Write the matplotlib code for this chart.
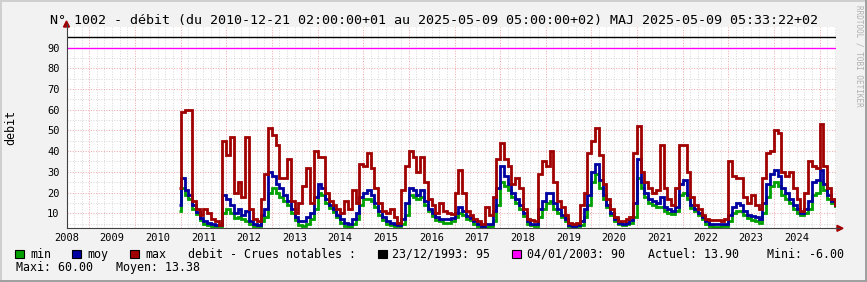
import numpy as np
import pandas as pd
import matplotlib
matplotlib.use("Agg")
import matplotlib.pyplot as plt
import matplotlib.dates as mdates
from matplotlib.patches import Rectangle, Polygon
from matplotlib.lines import Line2D

# monthly values, Dec 2010 -> May 2025 (one row per year)
debit_max = [22,
    59, 60, 60, 16, 12, 9, 12, 10, 7, 6, 4.5, 45,          # 2011
    38, 47, 20, 25, 18, 47, 12, 7, 6, 17, 29, 51,          # 2012
    48, 43, 27, 27, 36, 16, 10, 15, 23, 32, 15, 40,        # 2013
    37, 37, 20, 16, 14, 12, 10, 16, 12, 21, 15, 34,        # 2014
    33, 39, 32, 22, 15, 11, 10, 12, 8, 5.5, 21, 33,        # 2015
    40, 37, 30, 37, 25, 17, 14, 10, 15, 11, 10, 9.5,       # 2016
    20, 31, 20, 11, 9, 7, 6, 5, 13, 9, 18, 36,             # 2017
    44, 36, 33, 24, 27, 22, 12, 7, 6.5, 6, 29, 35,         # 2018
    33, 40, 25, 16, 13, 9, 5.5, 5, 5.5, 14, 20, 39,        # 2019
    45, 51, 38, 24, 17, 12, 8, 6, 6, 7, 8, 39,             # 2020
    52, 30, 25, 22, 20, 21, 43, 22, 17, 14, 22, 43,        # 2021
    43, 30, 18, 14, 12, 9, 7, 6.5, 6.5, 6.5, 6, 7,         # 2022
    35, 28, 27, 27, 18, 15, 19, 14, 12, 27, 39, 40,        # 2023
    50, 49, 30, 28, 30, 22, 17, 11, 20, 35, 33, 32,        # 2024
    53, 33, 22, 17, 14]                                    # 2025

debit_moy = [14,
    27, 21, 19, 14, 10.5, 7.5, 6, 5.3, 4.6, 4.3, 4.2, 19,
    17, 14, 10, 12, 9, 11, 6, 5, 4.5, 9, 12, 30,
    28, 24, 22, 19, 16, 12, 8, 6, 6, 8, 10, 18,
    24, 22, 17, 14, 12, 9, 7, 5.5, 5, 7, 10, 18,
    20, 21, 19, 15, 11, 8, 6, 5.5, 5, 4.5, 7, 15,
    22, 21, 19, 21, 16, 12, 10, 8, 7, 7, 7, 7.5,
    10, 13, 11, 8.5, 7.5, 6, 5, 4, 5, 5, 11, 22,
    33, 28, 24, 20, 17, 14, 10, 6, 5, 4.8, 12, 16,
    20, 20, 15, 12, 9, 7, 4.5, 4, 4.2, 6, 12, 19,
    30, 34, 26, 19, 14, 10, 7, 5.5, 5, 5.5, 6.5, 15,
    36, 25, 20, 17, 16, 15, 18, 13, 12, 11, 13, 24,
    26, 19, 14, 12, 10, 8, 6, 5, 5, 5, 5, 5,
    9, 13, 15, 14, 11, 9, 8.5, 8, 7, 15, 24, 29,
    31, 28, 22, 20, 17, 14, 12, 10, 12, 16, 25, 26,
    31, 24, 19, 16, 14]

debit_min = [11,
    22, 19, 17, 12, 9.5, 6.5, 5, 4.3, 4, 3.8, 3.8, 10,
    12, 10, 7.5, 8, 7, 6, 5, 4, 3.8, 6, 8, 20,
    22, 20, 18, 16, 14, 10, 6.5, 4.5, 4, 5, 7, 12,
    20, 19, 15, 12.5, 10.5, 8, 5.5, 4, 3.5, 5, 7, 14,
    17, 17, 16, 13, 9, 6.5, 5, 4.5, 4, 3.8, 5, 9,
    19, 18, 17, 18, 14, 11, 8.5, 6.5, 6, 5.5, 5.5, 6,
    8, 10, 9, 7, 6.5, 5, 4, 3.5, 3.5, 3.7, 6, 14,
    25, 23, 21, 18, 15, 12, 8.5, 5, 4.2, 4, 8, 12,
    15, 16, 12, 10, 8, 6, 4, 3.5, 3.6, 4.5, 8, 14,
    25, 29, 22, 17, 13, 9, 6, 5, 4.5, 5, 5.5, 8,
    27, 22, 18, 15, 14, 13, 13, 11, 10, 9.5, 11, 19,
    20, 17, 12.5, 11, 9, 7, 5, 3.8, 3.5, 3.5, 3.8, 4,
    6, 10, 11, 11, 9, 7.5, 6.5, 6, 5.5, 10, 18, 23,
    25, 23, 19, 17, 15, 12, 10, 9, 10, 12, 19, 20,
    25, 21, 17, 15, 13.5]

crues = [("23/12/1993", 95, "black"), ("04/01/2003", 90, "#ff00ff")]
actuel, mini, maxi, moyen = 13.90, -6.00, 60.00, 13.38
years = list(range(2008, 2025))

t_start = pd.Timestamp("2010-12-21 02:00")
t_end = pd.Timestamp("2025-05-09 05:00")
view_start = pd.Timestamp("2008-07-02")

W, H = 867, 282
MONO = "DejaVu Sans Mono"


def fx(px):
    return px / W


def fy(py):
    return 1 - py / H


fig = plt.figure(figsize=(W / 100, H / 100), dpi=100, facecolor="#f2f2f2")
ax = fig.add_axes([fx(66.5), fy(228.3), fx(835.6) - fx(66.5), fy(27) - fy(228.3)])
ax.set_facecolor("white")
for s in ax.spines.values():
    s.set_visible(False)

# time edges of the monthly steps
months = pd.date_range("2010-12-01", periods=len(debit_moy), freq="MS")
edges = list(months) + [t_end]
edges[0] = t_start
xe = mdates.date2num(edges)

x0 = mdates.date2num(view_start)
x1 = mdates.date2num(t_end)
ax.set_xlim(x0, x1)
ax.set_ylim(2.7, 100)

# grid (dotted, minor grey / major red)
for d in pd.date_range("2008-07-01", t_end, freq="2MS"):
    major = d.month == 1
    ax.axvline(mdates.date2num(d), color="#f0a8a8" if major else "#d8d8d8",
               lw=0.72, ls=(0, (1, 1.6)), zorder=1)
for v in range(5, 100, 5):
    major = v % 10 == 0
    ax.axhline(v, color="#f0a8a8" if major else "#d8d8d8",
               lw=0.72, ls=(0, (1, 1.6)), zorder=1)

# data
ax.stairs(debit_min, xe, baseline=None, color="#00a000", lw=2.0, zorder=3)
ax.stairs(debit_moy, xe, baseline=None, color="#0000a0", lw=2.0, zorder=4)
ax.stairs(debit_max, xe, baseline=None, color="#a00000", lw=2.0, zorder=5)

for label, val, col in crues:
    ax.axhline(val, color=col, lw=1.0, zorder=6)

# ticks
ax.set_yticks(range(10, 100, 10))
ax.set_yticklabels([str(v) for v in range(10, 100, 10)], fontfamily=MONO, fontsize=7.5)
ax.set_xticks([mdates.date2num(pd.Timestamp(f"{y}-07-01")) for y in years])
ax.set_xticklabels([str(y) for y in years], fontfamily=MONO, fontsize=7.5)
ax.tick_params(axis="y", length=0, pad=5)
ax.tick_params(axis="x", length=0, pad=3.5)

# axes lines with arrows
axc = "#404040"
fig.add_artist(Line2D([fx(66.5), fx(66.5)], [fy(228.3), fy(24)], color=axc, lw=0.8))
fig.add_artist(Line2D([fx(66.5), fx(839)], [fy(228.3), fy(228.3)], color=axc, lw=0.8))
fig.add_artist(Polygon([[fx(63.5), fy(27)], [fx(69.5), fy(27)], [fx(66.5), fy(21)]],
                       closed=True, color="#a00000", transform=fig.transFigure))
fig.add_artist(Polygon([[fx(837), fy(225.3)], [fx(837), fy(231.3)], [fx(843), fy(228.3)]],
                       closed=True, color="#a00000", transform=fig.transFigure))

# title and axis label
fig.text(fx(433.5), fy(24), "N° 1002 - débit (du 2010-12-21 02:00:00+01 au "
         "2025-05-09 05:00:00+02) MAJ 2025-05-09 05:33:22+02",
         ha="center", va="baseline", fontfamily=MONO, fontsize=9.6)
fig.text(fx(10.5), fy(127.5), "debit", rotation=90, ha="center", va="center",
         fontfamily=MONO, fontsize=8.4)
fig.text(fx(859), fy(5), "RRDTOOL / TOBI OETIKER", rotation=270, ha="center",
         va="top", fontfamily=MONO, fontsize=5.5, color="#b0b0b0")


# legend
def box(px, color):
    fig.add_artist(Rectangle((fx(px), fy(258.3)), 9 / W, 8 / H, transform=fig.transFigure,
                             facecolor=color, edgecolor="black", lw=0.8))


def txt(px, py, s):
    fig.text(fx(px), fy(py), s, ha="left", va="baseline", fontfamily=MONO, fontsize=8.4)


box(15, "#00a000")
txt(30, 257.7, "min")
box(72, "#0000a0")
txt(87, 257.7, "moy")
box(130, "#a00000")
txt(145, 257.7, "max")
txt(188, 257.7, "debit - Crues notables :")
box(378, crues[0][2])
txt(392, 257.7, f"{crues[0][0]}: {crues[0][1]}")
box(512, crues[1][2])
txt(527, 257.7, f"{crues[1][0]}: {crues[1][1]}")
txt(648, 257.7, f"Actuel: {actuel:.2f}")
txt(767, 257.7, f"Mini: {mini:.2f}")
txt(16, 271, f"Maxi: {maxi:.2f}")
txt(116, 271, f"Moyen: {moyen:.2f}")

# image frame
fig.add_artist(Line2D([0, 1], [fy(0.7), fy(0.7)], color="#cfcfcf", lw=1.4))
fig.add_artist(Line2D([fx(0.7), fx(0.7)], [0, 1], color="#cfcfcf", lw=1.4))
fig.add_artist(Line2D([0, 1], [fy(281.3), fy(281.3)], color="#9e9e9e", lw=1.4))
fig.add_artist(Line2D([fx(866.3), fx(866.3)], [0, 1], color="#9e9e9e", lw=1.4))

fig.savefig("out.png", dpi=100, facecolor=fig.get_facecolor())
